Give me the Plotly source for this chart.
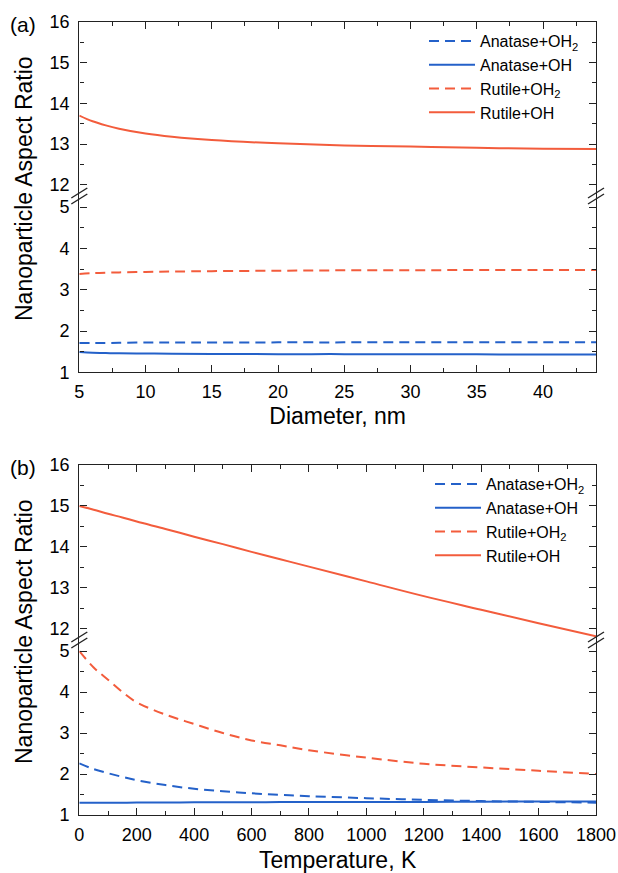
import plotly.graph_objects as go

# ---------------- data ----------------
diam_x = [5, 6, 7, 8, 10, 12, 15, 20, 25, 30, 35, 40, 44]
a_ana_oh2 = [1.71, 1.71, 1.71, 1.715, 1.72, 1.72, 1.72, 1.725, 1.725, 1.73, 1.73, 1.73, 1.73]
a_ana_oh = [1.49, 1.475, 1.465, 1.46, 1.455, 1.45, 1.445, 1.44, 1.44, 1.435, 1.435, 1.43, 1.43]
a_rut_oh2 = [3.38, 3.40, 3.41, 3.42, 3.43, 3.44, 3.45, 3.46, 3.47, 3.47, 3.48, 3.48, 3.48]
a_rut_oh = [13.70, 13.56, 13.46, 13.38, 13.26, 13.18, 13.10, 13.02, 12.97, 12.94, 12.91, 12.89, 12.88]

temp_x = [0, 50, 100, 150, 200, 300, 400, 500, 600, 700, 800, 1000, 1200, 1400, 1600, 1800]
b_ana_oh2 = [2.26, 2.12, 2.02, 1.93, 1.85, 1.73, 1.64, 1.58, 1.53, 1.49, 1.46, 1.41, 1.37, 1.34, 1.32, 1.30]
b_ana_oh = [1.30, 1.30, 1.30, 1.30, 1.305, 1.305, 1.31, 1.31, 1.31, 1.315, 1.315, 1.32, 1.32, 1.325, 1.33, 1.33]
b_rut_oh2 = [5.0, 4.6, 4.3, 4.0, 3.75, 3.45, 3.22, 3.0, 2.82, 2.70, 2.58, 2.40, 2.25, 2.16, 2.08, 2.0]
b_rut_oh = [15.0, 14.91, 14.81, 14.72, 14.62, 14.44, 14.25, 14.07, 13.88, 13.70, 13.52, 13.16, 12.80, 12.47, 12.14, 11.82]

series_names = ["Anatase+OH<sub>2</sub>", "Anatase+OH", "Rutile+OH<sub>2</sub>", "Rutile+OH"]
x_title_a = "Diameter, nm"
x_title_b = "Temperature, K"
y_title = "Nanoparticle Aspect Ratio"

# ---------------- styling ----------------
W, H = 618, 873
BLUE = "#2461c9"
ORANGE = "#f35c3c"
FONT = "Arial, Liberation Sans, sans-serif"
DASH = "10px,6px"


def px_x(p):
    return p / W


def px_y(p):
    return 1 - p / H


fig = go.Figure()

# panel (a): x/y lower, x2/y2 upper; panel (b): x3/y3 lower, x4/y4 upper
specs = [
    (diam_x, a_ana_oh2, BLUE, DASH, "x", "y", "legend"),
    (diam_x, a_ana_oh, BLUE, "solid", "x", "y", "legend"),
    (diam_x, a_rut_oh2, ORANGE, DASH, "x", "y", "legend"),
    (diam_x, a_rut_oh, ORANGE, "solid", "x2", "y2", "legend"),
]
for (xs, ys, col, dash, xa, ya, lg), name in zip(specs, series_names):
    fig.add_trace(go.Scatter(x=xs, y=ys, mode="lines", name=name, xaxis=xa, yaxis=ya,
                             legend=lg, line=dict(color=col, width=2, dash=dash, shape="spline")))

specs_b = [
    (temp_x, b_ana_oh2, BLUE, DASH, "x3", "y3", "legend2"),
    (temp_x, b_ana_oh, BLUE, "solid", "x3", "y3", "legend2"),
    (temp_x, b_rut_oh2, ORANGE, DASH, "x3", "y3", "legend2"),
    (temp_x, b_rut_oh, ORANGE, "solid", "x4", "y4", "legend2"),
]
for (xs, ys, col, dash, xa, ya, lg), name in zip(specs_b, series_names):
    fig.add_trace(go.Scatter(x=xs, y=ys, mode="lines", name=name, xaxis=xa, yaxis=ya,
                             legend=lg, line=dict(color=col, width=2, dash=dash, shape="spline")))

X0, X1 = px_x(79.3), px_x(596)
# panel geometry (pixels)
A_TOP, A_BRK, A_BOT = 21.7, 196.0, 372.3
B_TOP, B_BRK, B_BOT = 465.0, 640.0, 815.0

tickfont = dict(family=FONT, size=18, color="black")
common = dict(showgrid=False, zeroline=False, showline=True, linecolor="#222", linewidth=1.4,
              ticks="inside", ticklen=7, tickwidth=1.3, tickcolor="#222", tickfont=tickfont,
              automargin=False)

lay = dict(
    template="none",
    width=W, height=H, margin=dict(l=0, r=0, t=0, b=0, autoexpand=False),
    paper_bgcolor="white", plot_bgcolor="white",
    font=dict(family=FONT, color="black"),
)

# panel (a)
lay["xaxis"] = dict(common, domain=[X0, X1], anchor="y", range=[5, 44], dtick=5, tick0=5,
                    minor=dict(ticks="inside", ticklen=4, dtick=2.5, tick0=5, tickcolor="#222"),
                    title=dict(text=x_title_a, font=dict(family=FONT, size=23), standoff=6),
                    ticklabelstandoff=3)
lay["xaxis2"] = dict(common, domain=[X0, X1], anchor="y2", range=[5, 44], dtick=5, tick0=5,
                     side="top", showticklabels=False, matches="x",
                     minor=dict(ticks="inside", ticklen=4, dtick=2.5, tick0=5, tickcolor="#222"))
lay["yaxis"] = dict(common, domain=[px_y(A_BOT), px_y(A_BRK)], anchor="x", range=[1, 5.27],
                    dtick=1, tick0=1, mirror="ticks",
                    minor=dict(ticks="inside", ticklen=4, dtick=0.5, tick0=1, tickcolor="#222"),
                    ticklabelstandoff=5)
lay["yaxis2"] = dict(common, domain=[px_y(A_BRK), px_y(A_TOP)], anchor="x2", range=[11.73, 16],
                     dtick=1, tick0=12, mirror="ticks",
                     minor=dict(ticks="inside", ticklen=4, dtick=0.5, tick0=12, tickcolor="#222"),
                     ticklabelstandoff=5)
# panel (b)
lay["xaxis3"] = dict(common, domain=[X0, X1], anchor="y3", range=[0, 1800], dtick=200, tick0=0,
                     minor=dict(ticks="inside", ticklen=4, dtick=100, tick0=0, tickcolor="#222"),
                     title=dict(text=x_title_b, font=dict(family=FONT, size=23), standoff=8),
                     ticklabelstandoff=3)
lay["xaxis4"] = dict(common, domain=[X0, X1], anchor="y4", range=[0, 1800], dtick=200, tick0=0,
                     side="top", showticklabels=False, matches="x3",
                     minor=dict(ticks="inside", ticklen=4, dtick=100, tick0=0, tickcolor="#222"))
lay["yaxis3"] = dict(common, domain=[px_y(B_BOT), px_y(B_BRK)], anchor="x3", range=[1, 5.27],
                     dtick=1, tick0=1, mirror="ticks",
                     minor=dict(ticks="inside", ticklen=4, dtick=0.5, tick0=1, tickcolor="#222"),
                     ticklabelstandoff=5)
lay["yaxis4"] = dict(common, domain=[px_y(B_BRK), px_y(B_TOP)], anchor="x4", range=[11.73, 16],
                     dtick=1, tick0=12, mirror="ticks",
                     minor=dict(ticks="inside", ticklen=4, dtick=0.5, tick0=12, tickcolor="#222"),
                     ticklabelstandoff=5)

legfont = dict(family=FONT, size=16, color="black")
lay["legend"] = dict(x=px_x(424), y=px_y(24), xanchor="left", yanchor="top", font=legfont,
                     bgcolor="rgba(0,0,0,0)", itemwidth=46, tracegroupgap=0)
lay["legend2"] = dict(x=px_x(430), y=px_y(467), xanchor="left", yanchor="top", font=legfont,
                      bgcolor="rgba(0,0,0,0)", itemwidth=46, tracegroupgap=0)

fig.update_layout(**lay)

# y-axis titles and panel labels
for yc, lab, ylab in [((A_TOP + A_BOT) / 2 - 8, "(a)", 24), ((B_TOP + B_BOT) / 2 - 8, "(b)", 467)]:
    fig.add_annotation(text=y_title, x=px_x(24), y=px_y(yc), xref="paper", yref="paper",
                       textangle=-90, showarrow=False, font=dict(family=FONT, size=23, color="black"),
                       xanchor="center", yanchor="middle")
    fig.add_annotation(text=lab, x=px_x(23), y=px_y(ylab), xref="paper", yref="paper",
                       showarrow=False, font=dict(family=FONT, size=21, color="black"),
                       xanchor="center", yanchor="middle")

# axis-break marks
for yb in (A_BRK, B_BRK):
    for xb in (79.3, 596):
        for off in (-3, 3):
            fig.add_shape(type="line", xref="paper", yref="paper",
                          x0=px_x(xb - 8), y0=px_y(yb + off + 5),
                          x1=px_x(xb + 8), y1=px_y(yb + off - 5),
                          line=dict(color="#222", width=1.4))

fig.write_html("out.html", config={"displayModeBar": False},
               post_script="document.body.style.margin='0';")
